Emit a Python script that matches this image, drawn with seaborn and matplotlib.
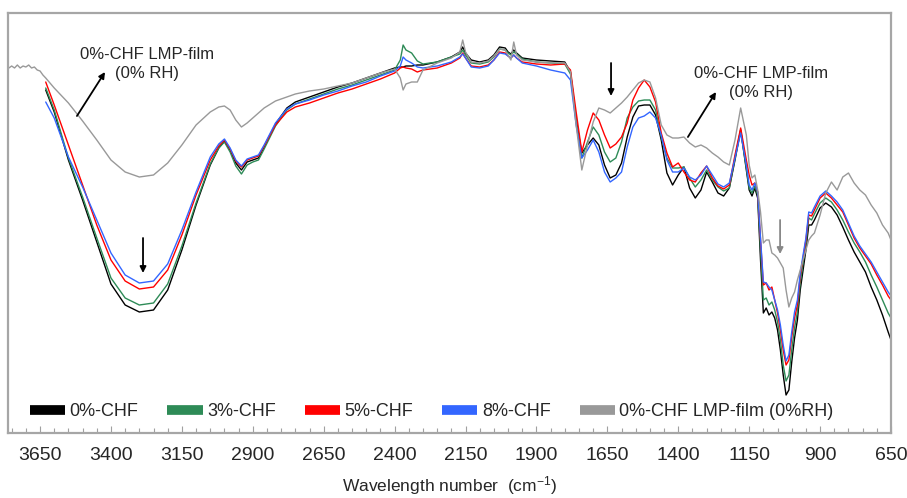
import numpy as np
import pandas as pd
import matplotlib
matplotlib.use("Agg")
import matplotlib.pyplot as plt
import seaborn as sns
from matplotlib.lines import Line2D
from matplotlib.ticker import MultipleLocator, FixedLocator

# ---------------- data (wavenumber in cm-1, band depth in arbitrary units) -------------
WN_GRAY_LEFT = [3760, 3750, 3740, 3730, 3720, 3710, 3700, 3690, 3680, 3670, 3660, 3650, 3640]
GRAY_LEFT = [68, 66, 68, 65, 68, 66, 67, 65, 68, 67, 70, 71, 75]

WN_A = [3630, 3600, 3550, 3500, 3450, 3400, 3350, 3300, 3250, 3200, 3150, 3100, 3050, 3020, 3000, 2980,
        2960, 2940, 2920, 2900, 2880, 2860, 2820, 2780, 2750, 2700, 2650, 2600, 2550, 2500, 2450, 2400]
WN_B = [2380, 2370, 2360, 2340, 2320, 2300, 2250, 2200, 2170, 2160, 2150, 2130, 2100, 2070, 2050, 2030,
        2010, 2000, 1990, 1980, 1970, 1950, 1900, 1850, 1800]
WN_C = [1780, 1760, 1740, 1720, 1700, 1680, 1660, 1640, 1620, 1600, 1580, 1560, 1540, 1520, 1500, 1480,
        1460, 1440, 1420, 1400, 1380, 1360, 1340, 1320, 1300, 1280, 1260, 1240, 1220, 1200, 1180, 1160,
        1150, 1140, 1130, 1120]
WN_D = [1110, 1100, 1090, 1080, 1070, 1060, 1050, 1040, 1030, 1020, 1010, 1000, 990, 980, 970, 960, 950,
        940, 930, 920, 900, 880, 860, 840, 820, 800, 780, 760, 740, 720, 700, 680, 660, 650]

CHF0_A = [90, 112, 160, 200, 242, 284, 305, 312, 310, 290, 250, 205, 165, 148, 141, 150, 163, 170, 162, 160,
          158, 147, 124, 108, 102, 97, 92, 87, 83, 78, 73, 68]
CHF3_A = [88, 110, 158, 197, 238, 278, 298, 305, 303, 284, 246, 203, 164, 148, 142, 152, 166, 174, 165, 162,
          160, 149, 126, 110, 104, 99, 94, 89, 85, 80, 75, 70]
CHF5_A = [82, 105, 145, 185, 225, 260, 281, 289, 287, 270, 235, 195, 160, 146, 140, 149, 161, 167, 160, 158,
          156, 146, 125, 112, 107, 103, 98, 93, 89, 84, 79, 73]
CHF8_A = [102, 118, 157, 187, 220, 253, 275, 283, 281, 264, 230, 192, 157, 144, 139, 148, 160, 166, 159, 157,
          155, 145, 123, 109, 104, 100, 95, 91, 86, 82, 76, 71]
GRAY_A = [78, 88, 103, 121, 140, 160, 172, 177, 175, 163, 145, 125, 112, 107, 106, 110, 120, 127, 123, 118,
          113, 108, 101, 97, 94, 91, 89, 86, 83, 78, 73, 69]

CHF0_B = [67, 67, 66, 66, 65, 65, 62, 57, 52, 47, 53, 60, 62, 60, 55, 47, 48, 52, 54, 50, 53, 58, 60, 61, 62]
CHF3_B = [60, 45, 50, 53, 61, 64, 62, 57, 54, 50, 55, 63, 64, 62, 57, 49, 50, 53, 55, 52, 54, 59, 62, 63, 64]
CHF5_B = [68, 67, 68, 69, 72, 70, 68, 63, 58, 53, 58, 66, 67, 65, 60, 52, 53, 56, 58, 55, 58, 62, 64, 65, 64]
CHF8_B = [66, 57, 60, 63, 67, 68, 66, 62, 57, 54, 58, 67, 68, 66, 60, 53, 54, 56, 58, 55, 58, 63, 66, 70, 73]
GRAY_B = [78, 90, 84, 82, 82, 70, 63, 58, 52, 40, 52, 62, 63, 61, 56, 49, 50, 55, 60, 42, 55, 60, 62, 63, 63]

CHF0_C = [72, 120, 153, 145, 138, 145, 165, 178, 175, 163, 137, 117, 106, 105, 105, 115, 140, 173, 185, 175,
          167, 188, 198, 190, 172, 182, 193, 196, 188, 160, 130, 170, 190, 196, 188, 198]
CHF3_C = [74, 120, 158, 142, 127, 135, 152, 162, 158, 142, 118, 107, 101, 100, 100, 110, 137, 158, 168, 168,
          167, 178, 187, 180, 170, 180, 187, 191, 188, 158, 130, 168, 188, 193, 186, 195]
CHF5_C = [70, 112, 152, 130, 113, 120, 135, 148, 144, 137, 123, 100, 88, 80, 87, 102, 133, 153, 167, 163,
          172, 180, 182, 173, 166, 178, 186, 189, 185, 155, 128, 160, 175, 185, 183, 192]
CHF8_C = [80, 125, 158, 150, 140, 152, 172, 182, 178, 172, 147, 127, 118, 116, 112, 118, 135, 160, 172, 172,
          168, 177, 180, 175, 166, 175, 184, 187, 183, 158, 133, 165, 185, 190, 183, 192]
GRAY_C = [72, 125, 170, 145, 122, 108, 110, 113, 108, 103, 97, 90, 83, 80, 82, 98, 125, 135, 138, 138,
          137, 143, 147, 145, 148, 153, 157, 162, 165, 140, 108, 135, 165, 178, 175, 190]

CHF0_D = [260, 313, 308, 315, 312, 318, 330, 350, 375, 395, 390, 362, 338, 320, 290, 270, 250, 225, 225, 220,
          208, 203, 207, 215, 227, 240, 252, 262, 272, 287, 300, 315, 332, 340]
CHF3_D = [250, 300, 298, 305, 302, 310, 322, 340, 365, 381, 375, 350, 328, 312, 283, 263, 245, 218, 220, 214,
          203, 198, 202, 210, 220, 232, 243, 252, 262, 275, 287, 300, 313, 318]
CHF5_D = [240, 285, 283, 290, 287, 300, 313, 330, 350, 365, 360, 337, 318, 305, 276, 258, 240, 215, 216, 210,
          198, 193, 198, 205, 212, 225, 238, 248, 256, 264, 275, 285, 296, 300]
CHF8_D = [238, 282, 283, 287, 290, 300, 310, 325, 345, 361, 355, 332, 312, 300, 273, 255, 238, 212, 213, 207,
          196, 191, 196, 202, 210, 223, 236, 246, 254, 262, 272, 282, 292, 296]
GRAY_D = [212, 243, 240, 240, 253, 255, 258, 263, 268, 290, 307, 298, 292, 280, 270, 260, 250, 240, 236, 233,
          215, 193, 182, 190, 177, 173, 183, 190, 195, 205, 213, 225, 233, 240]

LABELS = ["0%-CHF", "3%-CHF", "5%-CHF", "8%-CHF", "0%-CHF LMP-film (0%RH)"]
COLORS = ["#000000", "#2e8b57", "#ff0000", "#3366ff", "#999999"]
XTICKS = [3650, 3400, 3150, 2900, 2650, 2400, 2150, 1900, 1650, 1400, 1150, 900, 650]

# ---------------- build long-form table ----------------
wn_main = WN_A + WN_B + WN_C + WN_D
series = {
    LABELS[0]: (wn_main, CHF0_A + CHF0_B + CHF0_C + CHF0_D),
    LABELS[1]: (wn_main, CHF3_A + CHF3_B + CHF3_C + CHF3_D),
    LABELS[2]: (wn_main, CHF5_A + CHF5_B + CHF5_C + CHF5_D),
    LABELS[3]: (wn_main, CHF8_A + CHF8_B + CHF8_C + CHF8_D),
    LABELS[4]: (WN_GRAY_LEFT + wn_main, GRAY_LEFT + GRAY_A + GRAY_B + GRAY_C + GRAY_D),
}
frames = []
for name, (w, v) in series.items():
    frames.append(pd.DataFrame({"wn": w, "depth": v, "sample": name}))
df = pd.concat(frames, ignore_index=True)

# ---------------- plot ----------------
sns.set_theme(style="white")
plt.rcParams["font.family"] = ["Liberation Sans", "DejaVu Sans"]
plt.rcParams["mathtext.default"] = "regular"

fig = plt.figure(figsize=(9.07, 4.98), dpi=100)
ax = fig.add_axes([8 / 907, 65 / 498, 883 / 907, 420 / 498])

sns.lineplot(data=df, x="wn", y="depth", hue="sample", hue_order=LABELS,
             palette=dict(zip(LABELS, COLORS)), sort=False, estimator=None,
             linewidth=1.0, legend=False, ax=ax)

ax.set_xlim(3763, 650)
ax.set_ylim(433, 13)
ax.xaxis.set_major_locator(FixedLocator(XTICKS))
ax.xaxis.set_minor_locator(MultipleLocator(50))
ax.set_xticklabels([str(t) for t in XTICKS])
ax.set_yticks([])
ax.set_ylabel("")
ax.tick_params(axis="x", which="major", direction="in", length=5, width=0.8, color="#a0a0a0",
               labelsize=14, pad=10, bottom=True)
ax.tick_params(axis="x", which="minor", direction="in", length=3.5, width=0.8, color="#a0a0a0", bottom=True)
for s in ax.spines.values():
    s.set_color("#a6a6a6")
    s.set_linewidth(1.6)
ax.set_xlabel("Wavelength number  (cm$^{-1}$)", fontsize=12.5, labelpad=7)

# annotations
arrow_kw = dict(arrowstyle="-|>", color="black", lw=1.3, mutation_scale=9, shrinkA=0, shrinkB=0)
ax.text(3273, 64, "0%-CHF LMP-film\n(0% RH)", fontsize=12, ha="center", va="center", linespacing=1.35)
ax.annotate("", xy=(3421, 72), xytext=(3520, 116), arrowprops=arrow_kw)
ax.text(1108, 83, "0%-CHF LMP-film\n(0% RH)", fontsize=12, ha="center", va="center", linespacing=1.35)
ax.annotate("", xy=(1267, 92), xytext=(1366, 137), arrowprops=arrow_kw)
ax.annotate("", xy=(3287, 273), xytext=(3287, 238), arrowprops=arrow_kw)
ax.annotate("", xy=(1637, 96), xytext=(1637, 63), arrowprops=arrow_kw)
gray_kw = dict(arrow_kw, color="#888888")
ax.annotate("", xy=(1041, 254), xytext=(1041, 220), arrowprops=gray_kw)

# legend
handles = [Line2D([0], [0], color=c, lw=7, solid_capstyle="butt") for c in COLORS]
ax.legend(handles, LABELS, loc="center left", bbox_to_anchor=(22 / 883, 21 / 420), ncol=5,
          frameon=False, fontsize=13, handlelength=1.95, handletextpad=0.25, columnspacing=1.6,
          borderpad=0, borderaxespad=0)

fig.savefig("out.png", dpi=100)
